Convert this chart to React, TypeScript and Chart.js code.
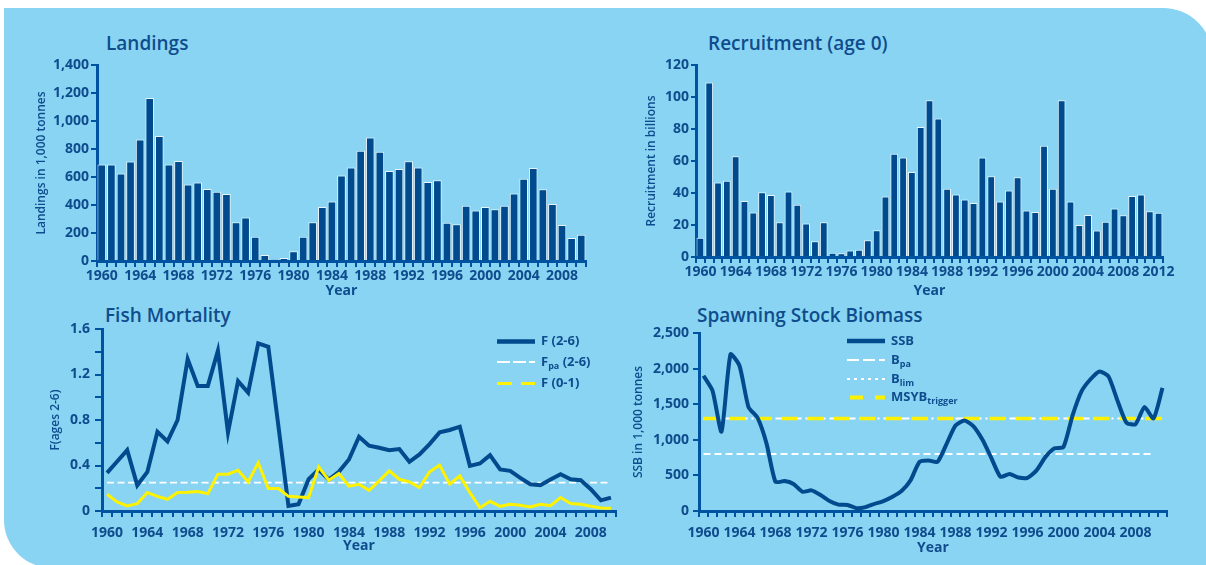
import React, { useEffect, useRef } from 'react';
import { Chart, registerables } from 'chart.js';

Chart.register(...registerables);

const W = 1206;
const H = 565;
const FONT = '"Open Sans", "Noto Sans", "DejaVu Sans", sans-serif';
const TEXT = '#0f4c8d';
const AXIS = '#0053a1';
const BAR = '#004a8d';
const BAR_EDGE = '#e9f5fc';
const BG = '#89d4f2';
const YELLOW = '#fff200';
const WHITE = '#ffffff';

function yearLabels(from: number, to: number): string[] {
  const out: string[] = [];
  for (let y = from; y <= to; y++) out.push(String(y));
  return out;
}

// ---------- data ----------
const landingYears = yearLabels(1960, 2010);
const landings = [
  690, 690, 625, 711, 868, 1164, 892, 690, 715, 546,
  560, 515, 494, 479, 277, 310, 174, 43, 10, 21,
  69, 174, 277, 386, 425, 611, 668, 787, 882, 780,
  642, 658, 713, 668, 565, 577, 274, 262, 394, 360,
  386, 370, 394, 482, 587, 665, 513, 408, 258, 165, 188,
];

const recruitYears = yearLabels(1960, 2012);
const recruitment = [
  12, 109, 46.5, 47.6, 63, 35, 27.8, 40.5, 38.8, 21.7,
  41, 32.6, 20.9, 9.8, 21.7, 2.7, 2.3, 4, 4.6, 10.4,
  16.7, 37.8, 64.5, 62.2, 53.2, 81.2, 97.9, 86.6, 42.6, 39,
  35.9, 33.8, 62.2, 50.5, 34.7, 41.5, 49.9, 29, 28.2, 69.5,
  42.6, 97.9, 34.7, 20, 26.3, 16.5, 22.1, 30.3, 26.1, 38.2,
  39, 28.6, 27.6,
];

const fYears = yearLabels(1960, 2010);
const f26 = [
  0.335, 0.435, 0.535, 0.226, 0.344, 0.697, 0.612, 0.8, 1.335, 1.1,
  1.1, 1.409, 0.69, 1.141, 1.041, 1.474, 1.444, 0.75, 0.044, 0.059,
  0.28, 0.365, 0.276, 0.344, 0.453, 0.653, 0.574, 0.556, 0.535, 0.544,
  0.432, 0.497, 0.588, 0.691, 0.712, 0.741, 0.397, 0.418, 0.491, 0.365,
  0.353, 0.291, 0.235, 0.226, 0.276, 0.324, 0.279, 0.271, 0.191, 0.094, 0.118,
];
const f01 = [
  0.147, 0.079, 0.044, 0.065, 0.162, 0.129, 0.103, 0.162, 0.165, 0.171,
  0.153, 0.324, 0.324, 0.359, 0.256, 0.424, 0.197, 0.197, 0.129, 0.124,
  0.118, 0.388, 0.271, 0.329, 0.218, 0.235, 0.182, 0.265, 0.353, 0.279,
  0.256, 0.206, 0.344, 0.403, 0.235, 0.309, 0.162, 0.029, 0.085, 0.041,
  0.059, 0.05, 0.035, 0.059, 0.047, 0.118, 0.065, 0.059, 0.041, 0.026, 0.024,
];
const F_PA = 0.25;

const ssbYears = yearLabels(1960, 2011);
const ssb = [
  1900, 1690, 1114, 2200, 2040, 1460, 1310, 950, 410, 420,
  380, 270, 290, 225, 140, 89, 85, 40, 55, 100,
  140, 200, 280, 430, 690, 710, 690, 940, 1200, 1270,
  1190, 1000, 740, 480, 520, 470, 465, 570, 760, 880,
  900, 1340, 1680, 1850, 1960, 1890, 1550, 1240, 1220, 1460,
  1300, 1730,
];
const B_PA = 1300;
const B_LIM = 800;
const MSY_B_TRIGGER = 1300;
const B_LIM_LAST_YEAR = 2010;

// ---------- helpers ----------
const tickFont = { family: FONT, size: 14, weight: 'bold' as const };
const axisTitleFont = { family: FONT, size: 12, weight: 600 as const };

function xAxis(height: number, pad: number) {
  return {
    type: 'category',
    offset: true,
    grid: { offset: true, drawOnChartArea: false, drawTicks: true, tickLength: 6, color: AXIS, lineWidth: 2 },
    border: { display: true, color: AXIS, width: 3 },
    ticks: {
      autoSkip: false,
      maxRotation: 0,
      minRotation: 0,
      padding: pad,
      color: TEXT,
      font: tickFont,
      callback: function (this: any, value: any) {
        const l = this.getLabelForValue(value);
        return (Number(l) - 1960) % 4 === 0 ? l : '';
      },
    },
    title: { display: true, text: 'Year', color: TEXT, font: { family: FONT, size: 14, weight: 'bold' }, padding: 0 },
    afterFit: (s: any) => { s.height = height; },
  };
}

function yAxis(o: { min: number; max: number; step: number; width: number; title: string; tickLen: number; pad: number; fmt: (v: number) => string }) {
  return {
    type: 'linear',
    min: o.min,
    max: o.max,
    grid: { drawOnChartArea: false, drawTicks: true, tickLength: o.tickLen, color: AXIS, lineWidth: 2 },
    border: { display: true, color: AXIS, width: 3 },
    ticks: { stepSize: o.step, padding: o.pad, color: TEXT, font: tickFont, callback: (v: any) => o.fmt(Number(v)) },
    title: { display: true, text: o.title, color: TEXT, font: axisTitleFont, padding: 0 },
    afterFit: (s: any) => { s.width = o.width; },
  };
}

const thousands = (v: number) => v.toLocaleString('en-US');

const legendPlugin = {
  id: 'customLegend',
  afterDatasetsDraw(chart: any, _args: any, opts: any) {
    if (!opts || !opts.rows) return;
    const ctx = chart.ctx;
    ctx.save();
    for (const row of opts.rows) {
      ctx.beginPath();
      ctx.strokeStyle = row.color;
      ctx.lineWidth = row.width;
      ctx.setLineDash(row.dash || []);
      ctx.lineCap = 'butt';
      ctx.moveTo(row.x1 ?? opts.x1, row.y);
      ctx.lineTo(opts.x2, row.y);
      ctx.stroke();
      ctx.setLineDash([]);
      let x = opts.textX;
      ctx.fillStyle = TEXT;
      ctx.textBaseline = 'middle';
      ctx.textAlign = 'left';
      for (const part of row.parts) {
        if (part.sub) {
          ctx.font = `bold 9px ${FONT}`;
          ctx.fillText(part.text, x, row.y + 4);
        } else {
          ctx.font = `bold 13px ${FONT}`;
          ctx.fillText(part.text, x, row.y);
        }
        x += ctx.measureText(part.text).width;
      }
    }
    ctx.restore();
  },
};

const commonOptions = {
  responsive: false,
  animation: false,
  events: [],
};

// ---------- configs ----------
function landingsConfig(): any {
  return {
    type: 'bar',
    data: {
      labels: landingYears,
      datasets: [{
        data: landings, backgroundColor: BAR, borderColor: BAR_EDGE, borderWidth: 1,
        barPercentage: 0.9, categoryPercentage: 1,
      }],
    },
    options: {
      ...commonOptions,
      layout: { padding: { left: 34, right: 620, top: 65, bottom: 265.6 } },
      plugins: { legend: { display: false }, tooltip: { enabled: false } },
      scales: {
        x: xAxis(38.4, 1),
        y: yAxis({ min: 0, max: 1400, step: 200, width: 63, title: 'Landings in 1,000 tonnes', tickLen: 6, pad: 2, fmt: thousands }),
      },
    },
  };
}

function recruitConfig(): any {
  return {
    type: 'bar',
    data: {
      labels: recruitYears,
      datasets: [{
        data: recruitment, backgroundColor: BAR, borderColor: BAR_EDGE, borderWidth: 1,
        barPercentage: 0.88, categoryPercentage: 1,
      }],
    },
    options: {
      ...commonOptions,
      layout: { padding: { left: 644, right: 43, top: 65, bottom: 265.6 } },
      plugins: { legend: { display: false }, tooltip: { enabled: false } },
      scales: {
        x: xAxis(42.4, 1),
        y: yAxis({ min: 0, max: 120, step: 20, width: 52, title: 'Recruitment in billions', tickLen: 5, pad: 2, fmt: thousands }),
      },
    },
  };
}

function fConfig(): any {
  return {
    type: 'line',
    data: {
      labels: fYears,
      datasets: [
        { label: 'F (0-1)', data: f01, borderColor: YELLOW, borderWidth: 3, pointRadius: 0, tension: 0, order: 0 },
        { label: 'F (2-6)', data: f26, borderColor: BAR, borderWidth: 4, pointRadius: 0, tension: 0, order: 1 },
        { label: 'Fpa (2-6)', data: fYears.map(() => F_PA), borderColor: WHITE, borderWidth: 1.8, borderDash: [7, 3.5], pointRadius: 0, order: 2 },
      ],
    },
    options: {
      ...commonOptions,
      layout: { padding: { left: 48, right: 590, top: 329, bottom: 10.6 } },
      plugins: {
        legend: { display: false },
        tooltip: { enabled: false },
        customLegend: {
          x1: 497, x2: 535, textX: 541,
          rows: [
            { y: 341.5, color: BAR, width: 4.5, parts: [{ text: 'F (2-6)' }] },
            { y: 362, color: WHITE, width: 2, dash: [13, 3], parts: [{ text: 'F' }, { text: 'pa', sub: true }, { text: ' (2-6)' }] },
            { y: 383.5, color: YELLOW, width: 3, dash: [15, 9], parts: [{ text: 'F (0-1)' }] },
          ],
        },
      },
      scales: {
        x: xAxis(43.4, 7.5),
        y: yAxis({
          min: 0, max: 1.6, step: 0.2, width: 54, title: 'F(ages 2-6)', tickLen: 7, pad: 5,
          fmt: (v) => {
            const k = Math.round(v * 10);
            if (k % 4 !== 0) return '';
            return k === 0 ? '0' : (k / 10).toFixed(1);
          },
        }),
      },
    },
    plugins: [legendPlugin],
  };
}

function ssbConfig(): any {
  return {
    type: 'line',
    data: {
      labels: ssbYears,
      datasets: [
        { label: 'SSB', data: ssb, borderColor: BAR, borderWidth: 4, pointRadius: 0, tension: 0.2, order: 0 },
        { label: 'MSYBtrigger', data: ssbYears.map(() => MSY_B_TRIGGER), borderColor: YELLOW, borderWidth: 3.5, borderDash: [16, 10], pointRadius: 0, order: 1 },
        { label: 'Bpa', data: ssbYears.map(() => B_PA), borderColor: WHITE, borderWidth: 2, borderDash: [8, 4, 2, 4], pointRadius: 0, order: 2 },
        { label: 'Blim', data: ssbYears.map((y) => (Number(y) <= B_LIM_LAST_YEAR ? B_LIM : null)), borderColor: WHITE, borderWidth: 2, borderDash: [7, 4], pointRadius: 0, order: 3 },
      ],
    },
    options: {
      ...commonOptions,
      layout: { padding: { left: 631, right: 39, top: 333, bottom: 8.6 } },
      plugins: {
        legend: { display: false },
        tooltip: { enabled: false },
        customLegend: {
          x1: 847, x2: 885, textX: 891,
          rows: [
            { y: 341, color: BAR, width: 4.5, parts: [{ text: 'SSB' }] },
            { y: 360, color: WHITE, width: 2, dash: [12, 4], parts: [{ text: 'B' }, { text: 'pa', sub: true }] },
            { y: 379, color: WHITE, width: 2, dash: [3, 4], parts: [{ text: 'B' }, { text: 'lim', sub: true }] },
            { y: 397.5, x1: 850, color: YELLOW, width: 4, dash: [13, 12], parts: [{ text: 'MSYB' }, { text: 'trigger', sub: true }] },
          ],
        },
      },
      scales: {
        x: xAxis(45.4, 7.5),
        y: yAxis({ min: 0, max: 2500, step: 500, width: 68, title: 'SSB in 1,000 tonnes', tickLen: 6, pad: 4, fmt: thousands }),
      },
    },
    plugins: [legendPlugin],
  };
}

function ChartLayer({ make }: { make: () => any }) {
  const ref = useRef<HTMLCanvasElement | null>(null);
  useEffect(() => {
    if (!ref.current) return;
    const chart = new Chart(ref.current, make());
    return () => chart.destroy();
  }, []);
  return (
    <canvas
      ref={ref}
      width={W}
      height={H}
      style={{ position: 'absolute', left: 0, top: 0, width: W, height: H, display: 'block' }}
    />
  );
}

const titleStyle = (left: number, top: number): React.CSSProperties => ({
  position: 'absolute',
  left,
  top,
  fontFamily: FONT,
  fontSize: 19,
  fontWeight: 600,
  lineHeight: '24px',
  color: TEXT,
  whiteSpace: 'nowrap',
});

export default function App() {
  return (
    <div style={{ position: 'fixed', left: 0, top: 0, width: W, height: H, overflow: 'hidden', background: '#ffffff' }}>
      <div
        style={{
          position: 'absolute', left: 4, top: 8, width: 1209, height: 560, background: BG,
          borderRadius: '0 50px 0 48px',
        }}
      />
      <div style={titleStyle(106, 31)}>Landings</div>
      <div style={titleStyle(708, 31)}>Recruitment (age 0)</div>
      <div style={titleStyle(105, 303)}>Fish Mortality</div>
      <div style={titleStyle(697, 303)}>Spawning Stock Biomass</div>
      <ChartLayer make={landingsConfig} />
      <ChartLayer make={recruitConfig} />
      <ChartLayer make={fConfig} />
      <ChartLayer make={ssbConfig} />
    </div>
  );
}
